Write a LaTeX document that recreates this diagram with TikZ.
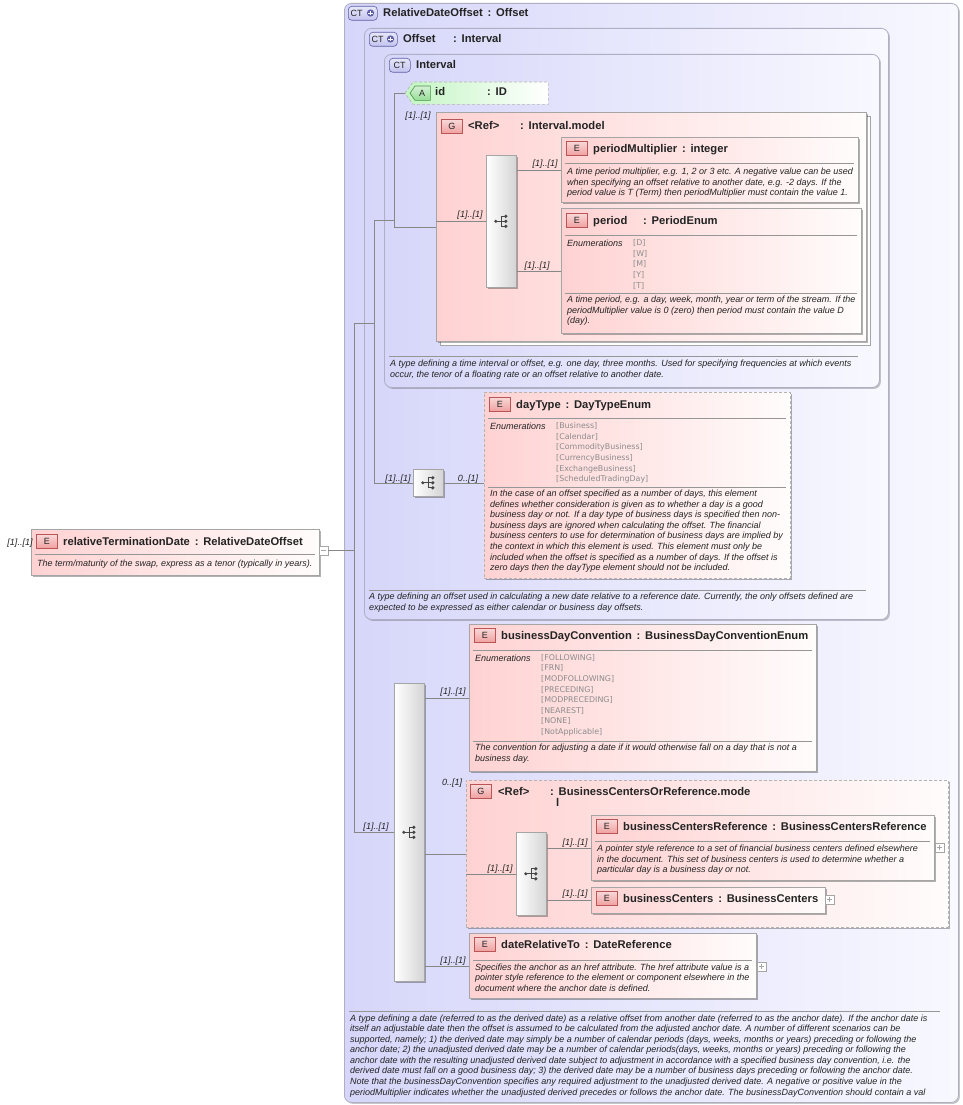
\documentclass[tikz,border=0pt]{standalone}
\usepackage{fontspec}
\setmainfont{Liberation Sans}
\newfontfamily\enumfont{DejaVu Sans}
\usetikzlibrary{shadows,calc}
\definecolor{lavL}{RGB}{214,214,250}
\definecolor{lavR}{RGB}{248,248,255}
\definecolor{frameC}{RGB}{175,175,195}
\definecolor{pinkL}{RGB}{255,210,210}
\definecolor{pinkR}{RGB}{255,252,252}
\definecolor{greenL}{RGB}{195,245,195}
\definecolor{boxC}{RGB}{165,165,165}
\definecolor{dashC}{RGB}{180,180,180}
\definecolor{lineC}{RGB}{135,135,135}
\definecolor{sepC}{RGB}{150,150,150}
\definecolor{enumC}{RGB}{140,140,140}
\definecolor{txtC}{RGB}{35,35,35}
\definecolor{seqR}{RGB}{212,212,212}
\definecolor{iconC}{RGB}{70,70,70}
\definecolor{redB}{RGB}{185,85,85}
\definecolor{redF}{RGB}{240,160,160}
\definecolor{blueB}{RGB}{95,95,165}
\definecolor{blueF}{RGB}{195,195,240}
\definecolor{greenB}{RGB}{70,150,70}
\definecolor{greenF}{RGB}{150,220,150}
\newcommand{\tcol}{\hspace{4.8pt}:\hspace{4.8pt}}
\newcommand{\seqicon}[1]{%
  \draw[iconC, line width=0.7pt] ($(#1)+(-5.5,0)$) -- ($(#1)+(4.5,0)$);
  \draw[iconC, line width=0.7pt] ($(#1)+(0,-5)$) -- ($(#1)+(0,5)$);
  \draw[iconC, line width=0.7pt] ($(#1)+(0,-5)$) -- ($(#1)+(4.5,-5)$);
  \draw[iconC, line width=0.7pt] ($(#1)+(0,5)$) -- ($(#1)+(4.5,5)$);
  \fill[iconC] ($(#1)+(-5.5,0)$) circle (1.7pt);
  \fill[iconC] ($(#1)+(4.5,-5)$) circle (1.8pt);
  \fill[iconC] ($(#1)+(4.5,0)$) circle (1.8pt);
  \fill[iconC] ($(#1)+(4.5,5)$) circle (1.8pt);
}
\newcommand{\ctplus}[1]{%
  \fill[blueB] (#1) circle (3.6pt);
  \draw[white, line width=0.9pt] ($(#1)+(-2.2,0)$) -- ($(#1)+(2.2,0)$);
  \draw[white, line width=0.9pt] ($(#1)+(0,-2.2)$) -- ($(#1)+(0,2.2)$);
}
\tikzset{
  ctframe/.style={draw=frameC, line width=0.8pt, rounded corners=7pt, left color=lavL, right color=lavR, inner sep=0pt, anchor=north west, drop shadow={shadow xshift=1.5pt, shadow yshift=-1.5pt, opacity=0.22, fill=black}},
  elbox/.style={draw=boxC, line width=0.6pt, left color=pinkL, right color=pinkR, inner sep=0pt, anchor=north west, drop shadow={shadow xshift=1.5pt, shadow yshift=-1.5pt, opacity=0.3, fill=black}},
  dashbox/.style={elbox, draw=dashC, dash pattern=on 3pt off 2pt},
  seqbox/.style={draw=boxC, line width=0.6pt, left color=white, right color=seqR, inner sep=0pt, anchor=north west, drop shadow={shadow xshift=1.5pt, shadow yshift=-1.5pt, opacity=0.3, fill=black}},
  hdr/.style={font=\bfseries\fontsize{11.2}{13}\selectfont, text=txtC, anchor=base west, inner sep=0pt},
  desc/.style={font=\itshape\fontsize{9}{10.55}\selectfont, text=txtC, anchor=north west, yshift=8pt, inner sep=0pt, align=left, execute at begin node={\rule{0pt}{8pt}}},
  enumlist/.style={font=\enumfont\fontsize{7.9}{10.6}\selectfont, text=enumC, anchor=north west, yshift=8pt, inner sep=0pt, align=left, execute at begin node={\rule{0pt}{8pt}}},
  card/.style={font=\itshape\fontsize{9}{10}\selectfont, text=txtC, inner sep=0pt, anchor=base},
  conn/.style={draw=lineC, line width=0.6pt},
  sepline/.style={draw=sepC, line width=0.6pt},
  redbadge/.style={draw=redB, line width=0.6pt, top color=redF!40!white, bottom color=redF, minimum width=21pt, minimum height=14pt, inner sep=0pt, anchor=north west, font=\fontsize{9}{10}\selectfont, text=txtC},
  bluebadge/.style={draw=blueB, line width=0.6pt, rounded corners=3.5pt, top color=blueF!40!white, bottom color=blueF, minimum height=14pt, inner sep=0pt, anchor=north west},
  badgetxt/.style={font=\fontsize{9}{10}\selectfont, text=txtC, inner sep=0pt},
  togglebox/.style={draw=boxC, fill=white, minimum width=9pt, minimum height=9pt, inner sep=0pt, line width=0.5pt},
}
\begin{document}
\begin{tikzpicture}[x=1pt,y=-1pt]
\useasboundingbox (0,0) rectangle (962,1105);
\fill[white] (0,0) rectangle (962,1105);

% ---------- complex type frames ----------
\node[ctframe, minimum width=614pt, minimum height=1099pt] (outer) at (344,3) {};
\node[ctframe, minimum width=524pt, minimum height=591pt] (offset) at (364,28) {};
\node[ctframe, minimum width=495pt, minimum height=333pt] (interval) at (384,54) {};

\node[bluebadge, minimum width=29pt] (ctb1) at (348,6) {};
\node[badgetxt] (ctt1) at (356.5,13) {CT};
\ctplus{370.5,13}
\node[hdr] (h1) at (383,17) {RelativeDateOffset\tcol Offset};

\node[bluebadge, minimum width=28pt] (ctb2) at (369,32) {};
\node[badgetxt] (ctt2) at (377.5,39) {CT};
\ctplus{390.5,39}
\node[hdr] (h2a) at (403,43) {Offset};
\node[hdr] (h2b) at (453,43) {:\hspace{4.8pt}Interval};

\node[bluebadge, minimum width=21pt] (ctb3) at (389,58) {};
\node[badgetxt] (ctt3) at (399.5,65) {CT};
\node[hdr] (h3) at (416,69) {Interval};

% ---------- id attribute ----------
\node[inner sep=0pt, minimum width=143pt, minimum height=22pt, anchor=north west] (id) at (405,82) {};
\draw[draw=dashC, dash pattern=on 3pt off 2pt, left color=greenL, right color=white, line width=0.6pt]
  (id.west) -- ($(id.north west)+(8,0)$) -- (id.north east) -- (id.south east) -- ($(id.south west)+(8,0)$) -- cycle;
\node[inner sep=0pt, minimum width=20pt, minimum height=14pt, anchor=north west] (abadge) at (410,86) {};
\draw[draw=greenB, top color=greenF!40!white, bottom color=greenF, line width=0.6pt]
  (abadge.west) -- ($(abadge.north west)+(5,0)$) -- (abadge.north east) -- (abadge.south east) -- ($(abadge.south west)+(5,0)$) -- cycle;
\node[badgetxt] (atxt) at ($(abadge.center)+(2,0)$) {A};
\node[hdr] (hid1) at (435,96) {id};
\node[hdr] (hid2) at (487,96) {:\hspace{4.8pt}ID};

% ---------- Interval.model group ----------
\node[draw=boxC, fill=white, line width=0.6pt, minimum width=430pt, minimum height=229pt, anchor=north west, inner sep=0pt] (GintS) at (440,116) {};
\node[elbox, minimum width=430pt, minimum height=229pt] (Gint) at (436,112) {};
\node[redbadge] (gb1) at (441,119) {G};
\node[hdr] (hg1a) at (468,130) {<Ref>};
\node[hdr] (hg1b) at (520,130) {:\hspace{4.8pt}Interval.model};

\node[seqbox, minimum width=30pt, minimum height=132pt] (seq1) at (486,155) {};
\seqicon{seq1.center}

\node[elbox, minimum width=297pt, minimum height=65pt] (pm) at (561,137) {};
\node[redbadge] (eb1) at (566,141) {E};
\node[hdr] (hpm) at (593,152) {periodMultiplier\tcol integer};
\draw[sepline] (565,163) -- (854,163);
\node[desc] (dpm) at (567,176) {A time period multiplier, e.g. 1, 2 or 3 etc. A negative value can be used\\when specifying an offset relative to another date, e.g. -2 days. If the\\period value is T (Term) then periodMultiplier must contain the value 1.};

\node[elbox, minimum width=300pt, minimum height=125pt] (period) at (561,208) {};
\node[redbadge] (eb2) at (566,213) {E};
\node[hdr] (hp1) at (593,224) {period};
\node[hdr] (hp2) at (643,224) {:\hspace{4.8pt}PeriodEnum};
\draw[sepline] (565,235) -- (857,235);
\node[desc] (enp) at (567,246.5) {Enumerations};
\node[enumlist] (evp) at (633,247.5) {[D]\\{}[W]\\{}[M]\\{}[Y]\\{}[T]};
\draw[sepline] (565,293) -- (857,293);
\node[desc] (dp) at (567,304) {A time period, e.g. a day, week, month, year or term of the stream. If the\\periodMultiplier value is 0 (zero) then period must contain the value D\\(day).};

\draw[sepline] (389,356) -- (858,356);
\node[desc] (dint) at (390,368) {A type defining a time interval or offset, e.g. one day, three months. Used for specifying frequencies at which events\\occur, the tenor of a floating rate or an offset relative to another date.};

% ---------- dayType ----------
\node[seqbox, minimum width=30pt, minimum height=27pt] (dayseq) at (413,469) {};
\seqicon{dayseq.center}
\node[dashbox, minimum width=306pt, minimum height=186pt] (dayType) at (484,392) {};
\node[redbadge] (eb3) at (489,397) {E};
\node[hdr] (hdt) at (516,408) {dayType\tcol DayTypeEnum};
\draw[sepline] (488,418) -- (786,418);
\node[desc] (endt) at (490,429.5) {Enumerations};
\node[enumlist] (evdt) at (556,430.5) {[Business]\\{}[Calendar]\\{}[CommodityBusiness]\\{}[CurrencyBusiness]\\{}[ExchangeBusiness]\\{}[ScheduledTradingDay]};
\draw[sepline] (488,487) -- (786,487);
\node[desc] (ddt) at (490,498) {In the case of an offset specified as a number of days, this element\\defines whether consideration is given as to whether a day is a good\\business day or not. If a day type of business days is specified then non-\\business days are ignored when calculating the offset. The financial\\business centers to use for determination of business days are implied by\\the context in which this element is used. This element must only be\\included when the offset is specified as a number of days. If the offset is\\zero days then the dayType element should not be included.};

\draw[sepline] (369,590) -- (866,590);
\node[desc] (doff) at (369,601) {A type defining an offset used in calculating a new date relative to a reference date. Currently, the only offsets defined are\\expected to be expressed as either calendar or business day offsets.};

% ---------- relativeTerminationDate ----------
\node[elbox, minimum width=288pt, minimum height=46pt] (rtd) at (31,529) {};
\node[redbadge] (eb0) at (36,534) {E};
\node[hdr] (hrtd) at (63,545) {relativeTerminationDate\tcol RelativeDateOffset};
\draw[sepline] (35,554) -- (315,554);
\node[desc] (drtd) at (37,566) {The term/maturity of the swap, express as a tenor (typically in years).};
\node[togglebox] (rtdtog) at (323.5,550.5) {};
\draw[boxC, line width=0.6pt] ($(rtdtog.center)+(-2.5,0)$) -- ($(rtdtog.center)+(2.5,0)$);
\node[card] (c1) at (20,545) {[1]..[1]};

% ---------- main sequence ----------
\node[seqbox, minimum width=30pt, minimum height=298pt] (bigseq) at (394,683) {};
\seqicon{bigseq.center}

\node[elbox, minimum width=347pt, minimum height=147pt] (bdc) at (469,624) {};
\node[redbadge] (eb4) at (474,628) {E};
\node[hdr] (hbdc) at (501,639) {businessDayConvention\tcol BusinessDayConventionEnum};
\draw[sepline] (473,650) -- (812,650);
\node[desc] (enbdc) at (475,661) {Enumerations};
\node[enumlist] (evbdc) at (541,662) {[FOLLOWING]\\{}[FRN]\\{}[MODFOLLOWING]\\{}[PRECEDING]\\{}[MODPRECEDING]\\{}[NEAREST]\\{}[NONE]\\{}[NotApplicable]};
\draw[sepline] (473,741) -- (812,741);
\node[desc] (dbdc) at (475,752) {The convention for adjusting a date if it would otherwise fall on a day that is not a\\business day.};

% ---------- BusinessCentersOrReference group ----------
\node[dashbox, minimum width=482pt, minimum height=147pt] (Gbc) at (466,780) {};
\node[redbadge] (gb2) at (470,784) {G};
\node[hdr] (hg2a) at (498,795) {<Ref>};
\node[hdr] (hg2b) at (550,795) {:\hspace{4.8pt}BusinessCentersOrReference.mode};
\node[hdr] (hg2c) at (556,806) {l};

\node[seqbox, minimum width=30pt, minimum height=83pt] (seq2) at (516,832) {};
\seqicon{seq2.center}

\node[elbox, minimum width=343pt, minimum height=65pt] (bcr) at (591,815) {};
\node[redbadge] (eb5) at (596,819) {E};
\node[hdr] (hbcr) at (623,830) {businessCentersReference\tcol BusinessCentersReference};
\draw[sepline] (595,841) -- (930,841);
\node[desc] (dbcr) at (597,853) {A pointer style reference to a set of financial business centers defined elsewhere\\in the document. This set of business centers is used to determine whether a\\particular day is a business day or not.};
\node[togglebox] (bcrtog) at (939.5,847.5) {};
\draw[boxC, line width=0.6pt] ($(bcrtog.center)+(-2.5,0)$) -- ($(bcrtog.center)+(2.5,0)$);
\draw[boxC, line width=0.6pt] ($(bcrtog.center)+(0,-2.5)$) -- ($(bcrtog.center)+(0,2.5)$);

\node[elbox, minimum width=234pt, minimum height=26pt] (bc) at (591,887) {};
\node[redbadge] (eb6) at (596,891) {E};
\node[hdr] (hbc) at (623,902) {businessCenters\tcol BusinessCenters};
\node[togglebox] (bctog) at (829.5,899.5) {};
\draw[boxC, line width=0.6pt] ($(bctog.center)+(-2.5,0)$) -- ($(bctog.center)+(2.5,0)$);
\draw[boxC, line width=0.6pt] ($(bctog.center)+(0,-2.5)$) -- ($(bctog.center)+(0,2.5)$);

% ---------- dateRelativeTo ----------
\node[elbox, minimum width=287pt, minimum height=65pt] (drt) at (469,933) {};
\node[redbadge] (eb7) at (474,937) {E};
\node[hdr] (hdrt) at (501,948) {dateRelativeTo\tcol DateReference};
\draw[sepline] (473,960) -- (752,960);
\node[desc] (ddrt) at (475,971.5) {Specifies the anchor as an href attribute. The href attribute value is a\\pointer style reference to the element or component elsewhere in the\\document where the anchor date is defined.};
\node[togglebox] (drttog) at (761.5,966.5) {};
\draw[boxC, line width=0.6pt] ($(drttog.center)+(-2.5,0)$) -- ($(drttog.center)+(2.5,0)$);
\draw[boxC, line width=0.6pt] ($(drttog.center)+(0,-2.5)$) -- ($(drttog.center)+(0,2.5)$);

% ---------- outer description ----------
\draw[sepline] (349,1011) -- (940,1011);
\node[desc] (douter) at (350,1022.5) {A type defining a date (referred to as the derived date) as a relative offset from another date (referred to as the anchor date). If the anchor date is\\itself an adjustable date then the offset is assumed to be calculated from the adjusted anchor date. A number of different scenarios can be\\supported, namely; 1) the derived date may simply be a number of calendar periods (days, weeks, months or years) preceding or following the\\anchor date; 2) the unadjusted derived date may be a number of calendar periods(days, weeks, months or years) preceding or following the\\anchor date with the resulting unadjusted derived date subject to adjustment in accordance with a specified business day convention, i.e. the\\derived date must fall on a good business day; 3) the derived date may be a number of business days preceding or following the anchor date.\\Note that the businessDayConvention specifies any required adjustment to the unadjusted derived date. A negative or positive value in the\\periodMultiplier indicates whether the unadjusted derived precedes or follows the anchor date. The businessDayConvention should contain a val};

% ---------- connectors ----------
\coordinate (jA) at (354,323);
\coordinate (jB) at (374,220);
\coordinate (jC) at (394,220);
\draw[conn] (rtdtog.east) -- (rtdtog.east -| jA);
\draw[conn] (jA) -- (jA |- bigseq.west) -- (bigseq.west);
\draw[conn] (jA) -- (jA -| jB);
\draw[conn] (dayseq.west) -- (jB |- dayseq.west) -- (jB) -- (jC);
\draw[conn] (id.west) -- (jC |- id.west) -- (jC |- Gint.west) -- (Gint.west);
\draw[conn] (Gint.west |- seq1.west) -- (seq1.west);
\draw[conn] (seq1.east |- pm.west) -- (pm.west);
\draw[conn] (seq1.east |- period.west) -- (period.west);
\draw[conn] (dayseq.east) -- (dayseq.east -| dayType.west);
\draw[conn] (bigseq.east |- bdc.west) -- (bdc.west);
\draw[conn] (bigseq.east |- Gbc.west) -- (Gbc.west);
\draw[conn] (bigseq.east |- drt.west) -- (drt.west);
\draw[conn] (Gbc.west |- seq2.west) -- (seq2.west);
\draw[conn] (seq2.east |- bcr.west) -- (bcr.west);
\draw[conn] (seq2.east |- bc.west) -- (bc.west);

% ---------- cardinalities ----------
\node[card] (c2) at (418,119) {[1]..[1]};
\node[card] (c3) at (470,217) {[1]..[1]};
\node[card] (c4) at (545,166) {[1]..[1]};
\node[card] (c5) at (537,268) {[1]..[1]};
\node[card] (c6) at (398,481) {[1]..[1]};
\node[card] (c7) at (468,481) {0..[1]};
\node[card] (c8) at (376,829) {[1]..[1]};
\node[card] (c9) at (453,694) {[1]..[1]};
\node[card] (c10) at (452,785) {0..[1]};
\node[card] (c11) at (500,871) {[1]..[1]};
\node[card] (c12) at (575,845) {[1]..[1]};
\node[card] (c13) at (575,896) {[1]..[1]};
\node[card] (c14) at (453,963) {[1]..[1]};
\end{tikzpicture}
\end{document}
